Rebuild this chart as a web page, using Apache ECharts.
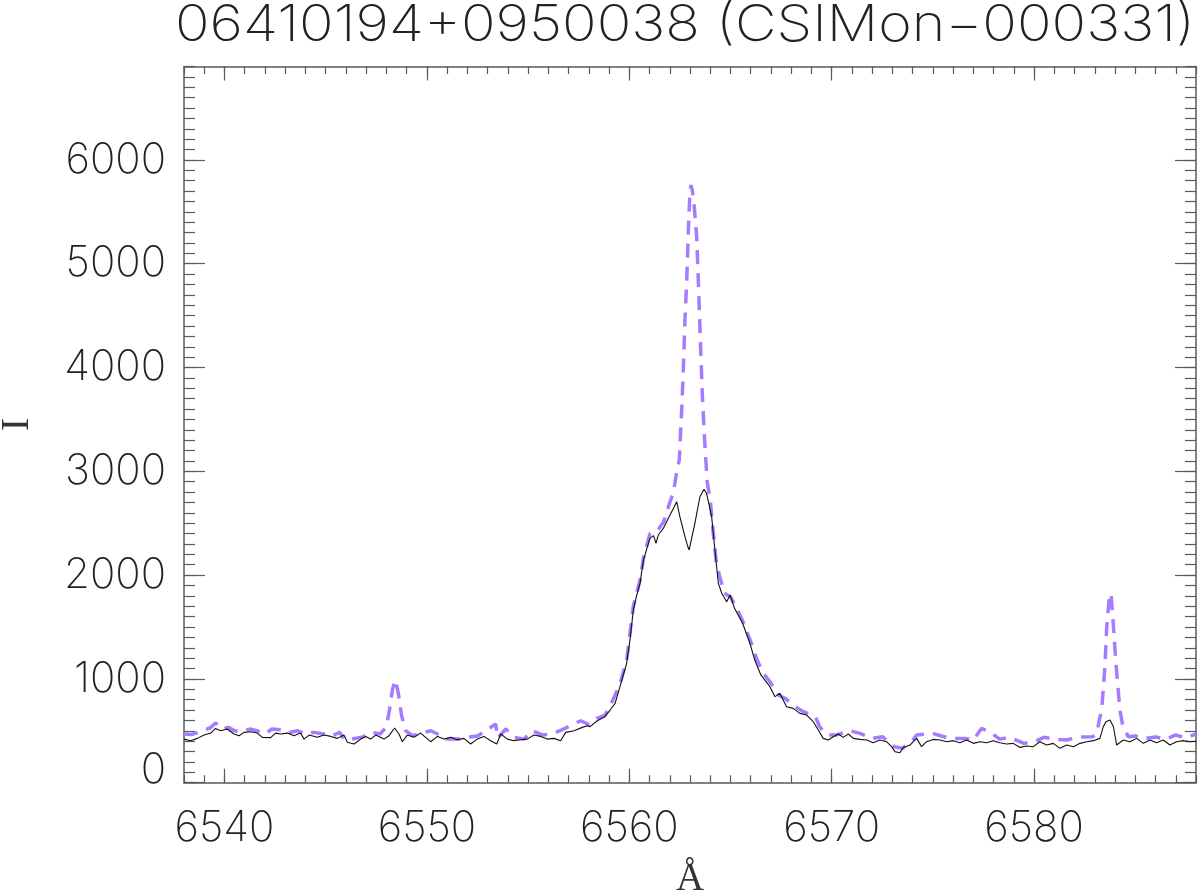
<!DOCTYPE html>
<html>
<head>
<meta charset="utf-8">
<script src="https://cdn.jsdelivr.net/npm/echarts@6/dist/echarts.min.js"></script>
<style>
html,body{margin:0;padding:0;background:#fff;}
#chart{width:1200px;height:895px;}
</style>
</head>
<body>
<div id="chart"></div>
<script>
// ---- data ----
const titleText = '06410194+0950038 (CSIMon\u2212000331)';
const xName = '\u00C5';
const yName = 'I';
const xTicks = [6540, 6550, 6560, 6570, 6580];
const yTicks = [0, 1000, 2000, 3000, 4000, 5000, 6000];
const xRange = [6538, 6588];
const yRange = [0, 6900];

const blackWave = [6538.00,6538.33,6538.66,6538.99,6539.32,6539.56,6539.81,6540.14,6540.47,6540.72,6540.96,6541.29,6541.62,6541.87,6542.28,6542.53,6542.78,6543.11,6543.43,6543.76,6543.93,6544.18,6544.59,6544.92,6545.25,6545.58,6545.90,6546.07,6546.40,6546.73,6546.98,6547.22,6547.47,6547.88,6548.13,6548.41,6548.62,6548.79,6549.03,6549.36,6549.69,6549.94,6550.19,6550.52,6550.85,6551.18,6551.50,6551.83,6552.16,6552.49,6552.82,6553.15,6553.45,6553.65,6553.98,6554.30,6554.63,6554.96,6555.29,6555.62,6555.95,6556.28,6556.61,6556.86,6557.27,6557.68,6557.93,6558.06,6558.42,6558.80,6559.05,6559.30,6559.54,6559.87,6560.05,6560.20,6560.36,6560.53,6560.70,6561.02,6561.20,6561.32,6561.43,6561.68,6562.01,6562.20,6562.34,6562.50,6562.75,6562.90,6562.96,6563.08,6563.24,6563.49,6563.69,6563.82,6564.07,6564.23,6564.40,6564.57,6564.81,6564.98,6565.20,6565.60,6565.96,6566.20,6566.50,6566.95,6567.20,6567.44,6567.77,6568.10,6568.43,6568.76,6569.09,6569.34,6569.58,6569.83,6570.08,6570.33,6570.57,6570.82,6571.07,6571.40,6571.73,6572.05,6572.38,6572.71,6572.96,6573.13,6573.37,6573.54,6573.87,6574.03,6574.20,6574.44,6574.69,6575.02,6575.35,6575.68,6576.01,6576.34,6576.67,6577.00,6577.33,6577.66,6577.98,6578.31,6578.64,6578.97,6579.30,6579.63,6579.96,6580.29,6580.62,6580.95,6581.28,6581.61,6581.94,6582.27,6582.60,6582.93,6583.25,6583.42,6583.55,6583.75,6583.92,6584.08,6584.41,6584.74,6585.07,6585.40,6585.73,6586.05,6586.38,6586.71,6587.04,6587.37,6587.70,6588.00];
const blackFlux = [420,405,427,459,478,523,501,517,469,453,485,491,478,437,434,478,469,478,453,478,420,459,437,459,446,427,459,389,373,420,446,420,459,420,453,527,469,395,459,437,478,437,395,446,420,437,414,427,373,420,446,405,373,469,420,405,414,420,459,446,420,427,405,485,501,533,549,540,597,636,700,765,925,1150,1400,1664,1800,1921,2145,2354,2380,2306,2386,2450,2579,2650,2707,2563,2370,2270,2242,2354,2499,2755,2827,2788,2563,2242,1921,1825,1744,1808,1680,1536,1343,1182,1038,925,829,861,732,716,668,652,588,507,427,411,443,469,437,469,427,417,411,385,411,395,347,299,289,340,363,395,427,347,395,417,411,395,405,385,411,379,395,385,405,385,373,379,340,353,347,395,363,379,331,363,347,379,395,405,427,540,588,604,539,363,411,395,427,379,411,385,411,363,395,405,395,400];

const purpleWave = [6538.00,6538.40,6538.99,6539.30,6539.56,6539.85,6540.20,6540.50,6540.85,6541.25,6541.60,6542.00,6542.35,6542.80,6543.15,6543.60,6543.95,6544.40,6544.90,6545.30,6545.70,6545.90,6546.30,6546.80,6547.20,6547.70,6548.00,6548.15,6548.30,6548.45,6548.60,6548.75,6548.95,6549.30,6549.75,6550.20,6550.70,6551.00,6551.60,6552.00,6552.50,6553.40,6553.50,6553.90,6554.30,6554.80,6555.20,6555.70,6556.20,6556.75,6557.10,6557.60,6558.00,6558.40,6558.80,6559.20,6559.54,6559.87,6560.20,6560.53,6560.70,6561.02,6561.40,6561.70,6562.00,6562.17,6562.35,6562.47,6562.59,6562.67,6562.75,6562.84,6562.92,6563.00,6563.05,6563.12,6563.21,6563.33,6563.41,6563.49,6563.54,6563.62,6563.74,6563.85,6564.00,6564.15,6564.30,6564.45,6564.70,6565.00,6565.25,6565.60,6566.00,6566.30,6566.60,6566.95,6567.40,6567.70,6568.20,6568.60,6569.20,6569.40,6569.80,6570.20,6570.90,6571.40,6572.00,6572.50,6573.10,6573.50,6574.00,6574.20,6575.00,6575.50,6575.90,6576.60,6577.00,6577.40,6577.80,6578.30,6578.80,6579.50,6580.00,6580.50,6581.00,6581.60,6582.20,6582.90,6583.10,6583.22,6583.34,6583.50,6583.59,6583.70,6583.80,6583.90,6584.03,6584.24,6584.36,6584.65,6585.00,6585.50,6586.00,6586.50,6587.00,6587.50,6588.00];
const purpleFlux = [470,465,501,530,575,520,533,501,490,517,501,470,517,510,480,501,470,485,469,450,485,420,420,437,485,470,540,700,900,990,850,646,501,453,480,501,453,420,420,437,450,565,430,517,437,420,501,460,470,517,549,597,560,620,650,800,950,1180,1700,1950,2160,2400,2430,2514,2700,2788,3000,3109,3590,3976,4457,4843,5325,5700,5757,5700,5549,5260,4843,4393,4104,3687,3237,2900,2724,2403,2120,2000,1825,1790,1700,1560,1360,1190,1060,973,840,813,733,684,636,540,459,459,501,475,427,443,347,331,411,459,475,445,427,427,411,523,491,420,437,379,395,437,420,411,440,443,476,600,700,1118,1503,1750,1825,1567,1182,700,572,443,450,427,440,420,460,430,470];

// ---- build ----
function zip(a, b) { return a.map((v, i) => [v, b[i]]); }
const xMinor = [];
for (let v = xRange[0]; v <= xRange[1]; v += 1) xMinor.push(v);
const yMinor = [];
for (let v = yRange[0]; v <= yRange[1]; v += 100) yMinor.push(v);

const axisColor = '#5a5a5a';
const textColor = '#222';
const thinFont = "Inter, 'DejaVu Sans', sans-serif";
const thinWeight = 200;
const tickFontSize = 42;

// stretch the title horizontally so it spans the same width as the reference
const titleFont = thinWeight + " 50px Inter, 'DejaVu Sans', sans-serif";
const measureCtx = document.createElement('canvas').getContext('2d');
measureCtx.font = titleFont;
const titleScaleX = 1020 / measureCtx.measureText(titleText).width;

function xAxisDef(pos, ticks, len, showLine, showLabel, extra) {
  return Object.assign({
    type: 'value', position: pos, min: xRange[0], max: xRange[1],
    axisLine: { show: showLine, onZero: false, lineStyle: { color: axisColor, width: 1.5 } },
    axisTick: { show: true, inside: true, length: len, customValues: ticks, lineStyle: { color: axisColor, width: 1.2 } },
    axisLabel: showLabel ? {
      show: true, customValues: xTicks, margin: 25, color: textColor,
      fontFamily: thinFont, fontWeight: thinWeight, fontSize: tickFontSize,
      formatter: function (v) { return String(v); }
    } : { show: false },
    splitLine: { show: false }
  }, extra || {});
}
function yAxisDef(pos, ticks, len, showLine, showLabel, extra) {
  return Object.assign({
    type: 'value', position: pos, min: yRange[0], max: yRange[1],
    axisLine: { show: showLine, onZero: false, lineStyle: { color: axisColor, width: 1.5 } },
    axisTick: { show: true, inside: true, length: len, customValues: ticks, lineStyle: { color: axisColor, width: 1.2 } },
    axisLabel: showLabel ? {
      show: true, customValues: yTicks, margin: 18, color: textColor,
      fontFamily: thinFont, fontWeight: thinWeight, fontSize: tickFontSize,
      formatter: function (v) { return v === 0 ? '{z|0}' : String(v); },
      rich: { z: { fontFamily: thinFont, fontWeight: thinWeight, fontSize: tickFontSize, color: textColor, padding: [0, 0, 24, 0] } }
    } : { show: false },
    splitLine: { show: false }
  }, extra || {});
}

const chart = echarts.init(document.getElementById('chart'), null, { renderer: 'canvas' });
chart.setOption({
  animation: false,
  backgroundColor: '#fff',
  grid: { left: 184, right: 4, top: 66.5, bottom: 112.3, containLabel: false, outerBoundsMode: 'none' },
  graphic: [{
    type: 'text', x: 685, y: 26, scaleX: titleScaleX,
    style: {
      text: titleText, fill: textColor, align: 'center', verticalAlign: 'middle',
      font: titleFont
    }
  }],
  xAxis: [
    xAxisDef('bottom', xTicks, 14, true, true, {
      name: xName, nameLocation: 'middle', nameGap: 78,
      nameTextStyle: { fontFamily: "'Liberation Serif', serif", fontSize: 39, color: '#333' }
    }),
    xAxisDef('bottom', xMinor, 7.5, false, false),
    xAxisDef('top', xTicks, 14, true, false),
    xAxisDef('top', xMinor, 7.5, false, false)
  ],
  yAxis: [
    yAxisDef('left', yTicks, 21, true, true, {
      name: yName, nameLocation: 'middle', nameGap: 147, nameRotate: 90,
      nameTextStyle: { fontFamily: "'Liberation Serif', serif", fontSize: 40, color: '#333' }
    }),
    yAxisDef('left', yMinor, 11, false, false),
    yAxisDef('right', yTicks, 21, true, false),
    yAxisDef('right', yMinor, 11, false, false)
  ],
  series: [
    {
      type: 'line', xAxisIndex: 0, yAxisIndex: 0, data: zip(blackWave, blackFlux),
      symbol: 'none', lineStyle: { color: '#111', width: 1.1 }, z: 3
    },
    {
      type: 'line', xAxisIndex: 0, yAxisIndex: 0, data: zip(purpleWave, purpleFlux),
      symbol: 'none', lineStyle: { color: '#a77bff', width: 3.5, type: [14, 9] }, z: 2
    }
  ]
});
</script>
</body>
</html>
